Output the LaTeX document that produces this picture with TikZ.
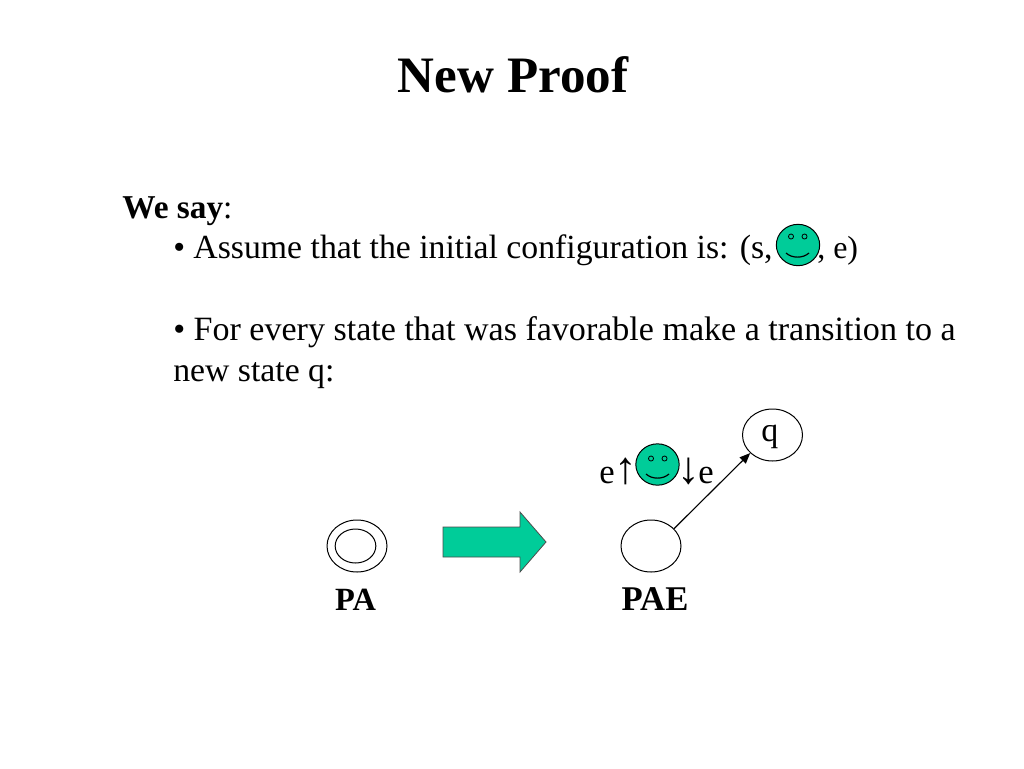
\documentclass[tikz,border=0pt]{standalone}
\usepackage{fontspec}
\setmainfont{Liberation Serif}
\usetikzlibrary{shapes.geometric,arrows.meta}
\definecolor{smilegreen}{HTML}{00CC99}
\newcommand{\sizedtext}[1]{\fontsize{#1}{28}\selectfont}
\tikzset{
  px/.style={x=0.75pt,y=-0.75pt},
  body/.style={anchor=base west,inner sep=0pt,font=\sizedtext{24}},
  titletext/.style={anchor=base,inner sep=0pt,font=\sizedtext{38.3}\bfseries},
  caption/.style={anchor=base,inner sep=0pt,font=\sizedtext{24.3}\bfseries},
  statenode/.style={draw=black,line width=0.75pt,ellipse,inner sep=0pt,minimum width=45pt,minimum height=39pt,fill=white},
  innerstate/.style={draw=black,line width=0.75pt,ellipse,inner sep=0pt,minimum width=30.5pt,minimum height=25.5pt},
  faceshape/.style={draw=black,fill=smilegreen,line width=0.75pt,ellipse,inner sep=0pt,minimum width=32.5pt,minimum height=31pt},
  eyeshape/.style={draw=black,line width=0.6pt,circle,inner sep=0pt,minimum size=3.8pt},
  smileline/.style={draw=black,line width=0.9pt},
  bigarrow/.style={draw=black!70,fill=smilegreen,line width=0.6pt,line join=miter},
  linkarrow/.style={draw=black,line width=0.85pt,-{Triangle[length=8pt,width=6.5pt]}}
}
\begin{document}
\begin{tikzpicture}[px]
\useasboundingbox (0,0) rectangle (1024,768);
\fill[white] (0,0) rectangle (1024,768);
\node[titletext] (title) at (513,92) {New Proof};
\node[body,font=\sizedtext{25}] (wesay) at (122,218) {\textbf{We say}:};
\node[body,font=\sizedtext{25.3}] (l1) at (173,258) {• Assume that the initial configuration is: (s,};
\node[body] (l1b) at (817,258) {, e)};
\node[body,font=\sizedtext{25.53}] (l2) at (173,340) {• For every state that was favorable make a transition to a};
\node[body,font=\sizedtext{25.3}] (l3) at (173,381) {new state q:};
% first smiley
\node[faceshape] (face1) at (798,245) {};
\node[eyeshape] (eye1l) at (791,236.5) {};
\node[eyeshape] (eye1r) at (804.5,236.5) {};
\draw[smileline] (786,253) .. controls (792,258.5) and (803,258.5) .. (809,253);
% double state
\node[statenode] (pa) at (357,546) {};
\node[innerstate] (painner) at (355.5,546) {};
\node[caption] (palabel) at (355.5,610) {PA};
% block arrow
\path[bigarrow] (443,527) -- (520,527) -- (520,512) -- (546,542) -- (520,572) -- (520,557) -- (443,557) -- cycle;
% right automaton
\node[statenode] (pae) at (651,546) {};
\node[statenode] (q) at (772.5,435) {};
\node[body,font=\sizedtext{25.5}] (qtext) at (761,441) {q};
\node[caption,font=\sizedtext{26}\bfseries] (paelabel) at (655,610) {PAE};
\draw[linkarrow] (pae.37) -- (q.219);
\node[body,font=\sizedtext{26}] (eup) at (599,483) {e};
\node[body,font=\sizedtext{34}] (uparrow) at (614.5,483) {↑};
\node[body,font=\sizedtext{34}] (downarrow) at (677,483) {↓};
\node[body,font=\sizedtext{26}] (edown) at (698,483) {e};
\node[faceshape] (face2) at (657.5,464.5) {};
\node[eyeshape] (eye2l) at (651,458.5) {};
\node[eyeshape] (eye2r) at (664.5,458.5) {};
\draw[smileline] (646,474) .. controls (652,479.5) and (663,479.5) .. (669,474);
\end{tikzpicture}
\end{document}
